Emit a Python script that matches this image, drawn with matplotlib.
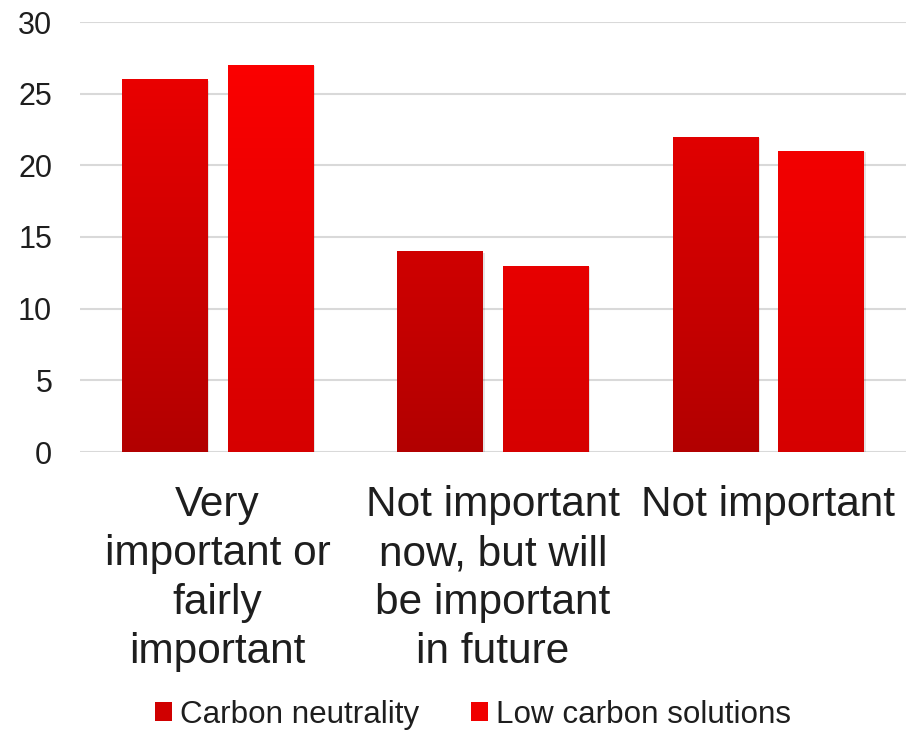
import matplotlib
matplotlib.use("Agg")
import matplotlib.pyplot as plt
import numpy as np
from matplotlib.colors import LinearSegmentedColormap
from matplotlib.patches import Patch

categories = ["Very\nimportant or\nfairly\nimportant",
              "Not important\nnow, but will\nbe important\nin future",
              "Not important"]
series_names = ["Carbon neutrality", "Low carbon solutions"]
carbon_neutrality = [26, 14, 22]
low_carbon = [27, 13, 21]
yticks = [0, 5, 10, 15, 20, 25, 30]

plt.rcParams['font.family'] = ['Liberation Sans', 'DejaVu Sans']

fig = plt.figure(figsize=(9.08, 7.31), dpi=100)
ax = fig.add_axes([80/908, (731-452)/731, 826/908, (452-22)/731])

x = np.arange(len(categories))
w = 0.312
gap = 0.072
offsets = [-(w+gap)/2, (w+gap)/2]
grads = [("#B20000", "#F20000"), ("#D60000", "#FF0000")]
series = [carbon_neutrality, low_carbon]

ax.set_xlim(-0.5, len(categories)-0.5)
ax.set_ylim(0, 30)

for si, vals in enumerate(series):
    cmap = LinearSegmentedColormap.from_list("g%d" % si, list(grads[si]))
    bars = ax.bar(x + offsets[si], vals, width=w, color="none", edgecolor="none", zorder=3)
    for b in bars:
        x0, y0 = b.get_x(), b.get_y()
        bw, bh = b.get_width(), b.get_height()
        # shadow
        ax.bar(x0 + bw/2 + 0.006, bh, width=bw, bottom=-0.1, color="#000000", alpha=0.10,
               edgecolor="none", zorder=2.5)
        grad = np.linspace(0, 1, 256).reshape(-1, 1)
        im = ax.imshow(grad, cmap=cmap, origin="lower", aspect="auto",
                       extent=[x0, x0+bw, 0, 30], zorder=3)
        im.set_clip_path(b)

ax.set_yticks(yticks)
ax.set_yticklabels([str(t) for t in yticks], fontsize=22, color="#1E1E1E")
ax.set_xticks(x)
ax.set_xticklabels(categories, fontsize=30.5, color="#1E1E1E", linespacing=1.29)
ax.tick_params(axis="both", length=0)
ax.tick_params(axis="y", pad=20)
ax.tick_params(axis="x", pad=24)
ax.grid(axis="y", color="#D9D9D9", linewidth=1.5, zorder=0)
ax.set_axisbelow(True)
for s in ax.spines.values():
    s.set_visible(False)

handles = [Patch(facecolor="#D00000", edgecolor="none"), Patch(facecolor="#F00000", edgecolor="none")]
fig.legend(handles, series_names, loc="center", bbox_to_anchor=(473/908, 1 - 715/731),
           ncol=2, frameon=False, fontsize=22.6, handlelength=0.55, handleheight=0.55,
           handletextpad=0.25, columnspacing=1.65, labelcolor="#1E1E1E",
           borderpad=0, borderaxespad=0)

fig.savefig("out.png", dpi=100)
